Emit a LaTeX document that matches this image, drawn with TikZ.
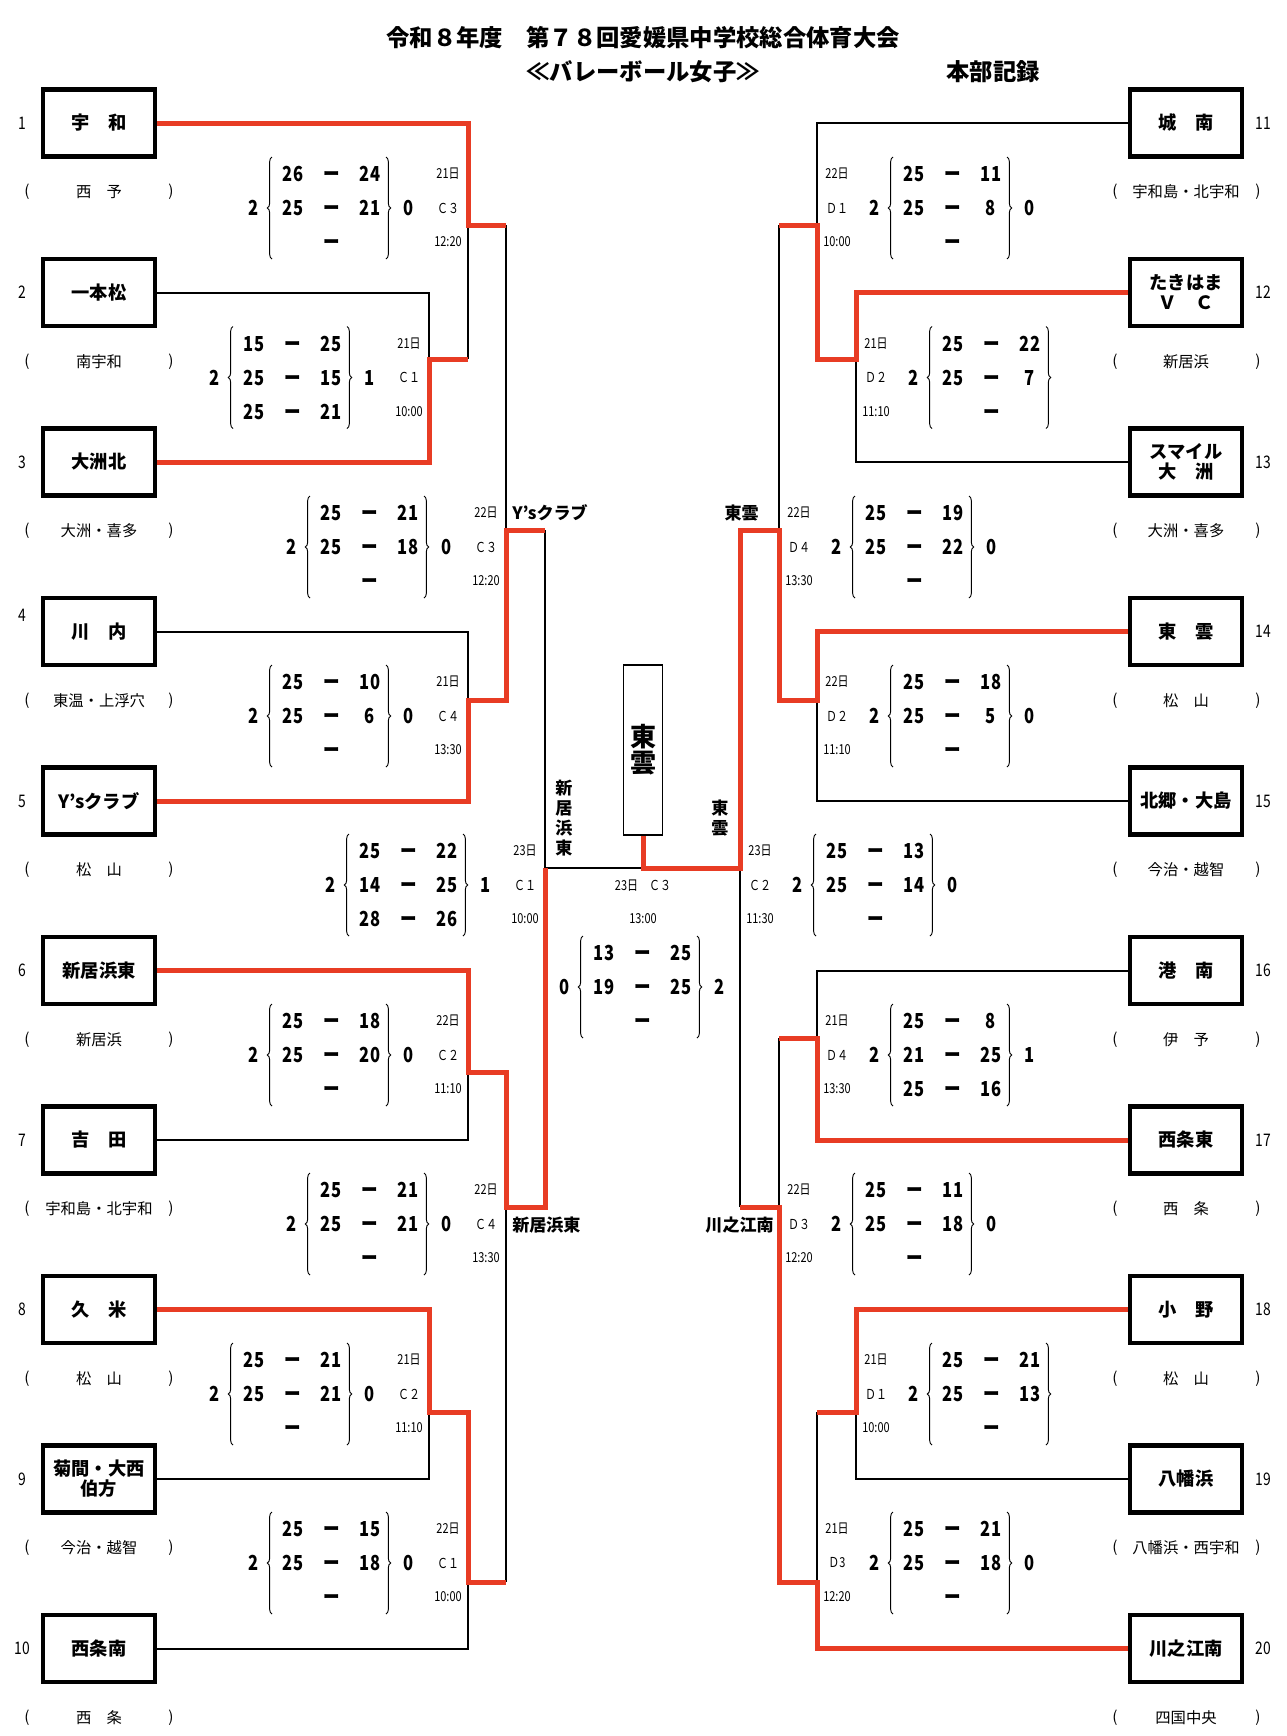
\documentclass[tikz,border=0pt]{standalone}
\usepackage{fontspec}
\setmainfont{Noto Sans CJK JP}
\newfontfamily\narrowfont{Noto Sans CJK JP}[FakeStretch=0.8]
\usetikzlibrary{decorations.pathreplacing}

\definecolor{bracketWin}{RGB}{232,60,36}
\definecolor{bracketLose}{RGB}{0,0,0}

\begin{document}
\begin{tikzpicture}[x=0.75pt,y=-0.75pt,
      team/.style={draw, line width=3.4pt, minimum width=84pt, minimum height=50.5pt,
        inner sep=0pt, align=center, font=\fontsize{13.7}{15}\selectfont\bfseries},
      area/.style={font=\fontsize{11.5}{12}\selectfont, inner sep=0pt},
      seed/.style={font=\fontsize{13}{14}\selectfont\narrowfont, inner sep=0pt},
      score/.style={font=\fontsize{15.5}{16}\selectfont\narrowfont\bfseries, inner sep=0pt},
      info/.style={font=\fontsize{10.3}{11}\selectfont\narrowfont, inner sep=0pt},
      winner/.style={font=\fontsize{12.8}{15}\selectfont\bfseries, inner sep=0pt},
      heading/.style={font=\fontsize{17.5}{18}\selectfont\bfseries, inner sep=0pt},
      scorebrace/.style={decorate, decoration={brace, amplitude=3.5pt}, line width=.7pt},
      win/.style={draw=bracketWin, line width=3.75pt},
      lose/.style={draw=bracketLose, line width=1.5pt}]
      \useasboundingbox (0,0) rectangle (1286,1736);

      \fill[white] (0,0) rectangle (1286,1736);

      % title
      \node[heading] (title) at (643,38) {令和８年度　第７８回愛媛県中学校総合体育大会};
      \node[heading] (event) at (643,72) {≪バレーボール女子≫};
      \node[heading] (record) at (993,72) {本部記録};

      % teams
      \foreach \i/\nm/\ar/\dy in {1/宇　和/西　予/0, 2/一本松/南宇和/0,
          3/大洲北/大洲・喜多/0, 4/川　内/東温・上浮穴/-16, 5/Y'sクラブ/松　山/0,
          6/新居浜東/新居浜/0, 7/吉　田/宇和島・北宇和/0, 8/久　米/松　山/0,
          9/菊間・大西\\伯方/今治・越智/0, 10/西条南/西　条/0}{
        \node[team] (team\i) at (99,{123+169.5*(\i-1)}) {\nm};
        \node[seed] (seed\i) at (22,{123+169.5*(\i-1)+\dy}) {\i};
        \node[area] (area\i) at (99,{192+169.5*(\i-1)}) {\ar};
        \node[area] (lpar\i) at (27,{192+169.5*(\i-1)}) {(};
        \node[area] (rpar\i) at (171,{192+169.5*(\i-1)}) {)};}
      \foreach \i/\nm/\ar in {11/城　南/宇和島・北宇和, 12/たきはま\\Ｖ　Ｃ/新居浜,
          13/スマイル\\大　洲/大洲・喜多, 14/東　雲/松　山, 15/北郷・大島/今治・越智,
          16/港　南/伊　予, 17/西条東/西　条, 18/小　野/松　山,
          19/八幡浜/八幡浜・西宇和, 20/川之江南/四国中央}{
        \node[team] (team\i) at (1186,{123+169.5*(\i-11)}) {\nm};
        \node[seed] (seed\i) at (1263,{123+169.5*(\i-11)}) {\i};
        \node[area] (area\i) at (1186,{192+169.5*(\i-11)}) {\ar};
        \node[area] (lpar\i) at (1115,{192+169.5*(\i-11)}) {(};
        \node[area] (rpar\i) at (1258,{192+169.5*(\i-11)}) {)};}

      % champion
      \node[draw, line width=1.2pt, minimum width=29pt, minimum height=127.5pt,
        inner sep=0pt, align=center, font=\fontsize{19.5}{19.5}\selectfont\bfseries]
        (champ) at (643,750) {東\\雲};

      % match junctions
      \coordinate (mA) at (468,225);  \coordinate (mB) at (429,359);
      \coordinate (mC) at (506,530);  \coordinate (mD) at (468,700);
      \coordinate (mE) at (545,868);  \coordinate (mF) at (468,1072);
      \coordinate (mG) at (506,1207); \coordinate (mH) at (429,1412);
      \coordinate (mI) at (468,1582);
      \coordinate (rA) at (817,225);  \coordinate (rB) at (856,359);
      \coordinate (rC) at (779,530);  \coordinate (rD) at (817,700);
      \coordinate (rE) at (740,868);  \coordinate (rF) at (817,1038);
      \coordinate (rG) at (779,1207); \coordinate (rH) at (856,1412);
      \coordinate (rI) at (817,1582);
      \coordinate (final) at (643,868);

      % losing legs
      \foreach \src/\dst in {team2.east/mB, team4.east/mD, team7.east/mF,
          team9.east/mH, team10.east/mI, team11.west/rA, team13.west/rB,
          team15.west/rD, team16.west/rF, team19.west/rH}
        \draw[lose] (\src) -| (\dst);
      \foreach \src/\dst in {mB/mA, mA/mC, mI/mG, mC/mE, rA/rC, rF/rG, rH/rI, rG/rE}
        \draw[lose] (\src -| \dst) -- (\dst);
      \draw[lose] (mE) -- (final);

      % winning routes
      \draw[win] (team1.east) -| (mA) -- (mA -| mC);
      \draw[win] (team3.east) -| (mB) -- (mB -| mA);
      \draw[win] (team5.east) -| (mD) -- (mD -| mC) -- (mC) -- (mC -| mE);
      \draw[win] (team6.east) -| (mF) -- (mF -| mG) -- (mG) -- (mG -| mE) -- (mE);
      \draw[win] (team8.east) -| (mH) -- (mH -| mI) -- (mI) -- (mI -| mG);
      \draw[win] (team12.west) -| (rB) -- (rB -| rA) -- (rA) -- (rA -| rC);
      \draw[win] (team14.west) -| (rD) -- (rD -| rC) -- (rC) -- (rC -| rE) -- (rE)
        -- (final) -- (champ.south);
      \draw[win] (team17.west) -| (rF) -- (rF -| rG);
      \draw[win] (team18.west) -| (rH) -- (rH -| rI);
      \draw[win] (team20.west) -| (rI) -- (rI -| rG) -- (rG) -- (rG -| rE);

      % set scores
      \foreach[count=\k] \dx/\cy/\ls/\pa/\pb/\qa/\qb/\ra/\rb/\rs in {
          332/208/2/26/24/25/21///0, 293/377.5/2/15/25/25/15/25/21/1,
          370/547/2/25/21/25/18///0, 332/716/2/25/10/25/6///0,
          409/885/2/25/22/14/25/28/26/1, 332/1055/2/25/18/25/20///0,
          370/1224/2/25/21/25/21///0, 293/1394/2/25/21/25/21///0,
          332/1563/2/25/15/25/18///0,
          953/208/2/25/11/25/8///0, 992/377.5/2/25/22/25/7///,
          915/547/2/25/19/25/22///0, 953/716/2/25/18/25/5///0,
          876/885/2/25/13/25/14///0, 953/1055/2/25/8/21/25/25/16/1,
          915/1224/2/25/11/25/18///0, 992/1394/2/25/21/25/13///,
          953/1563/2/25/21/25/18///0,
          643/987/0/13/25/19/25///2}{
        \node[score] (ls\k) at ({\dx-78},\cy) {\vphantom{0}\ls};
        \node[score] (rs\k) at ({\dx+77},\cy) {\vphantom{0}\rs};
        \node[score] (pa\k) at ({\dx-39},{\cy-34}) {\vphantom{0}\pa};
        \node[score] (pd\k) at (\dx,{\cy-34}) {\vphantom{0}ー};
        \node[score] (pb\k) at ({\dx+38},{\cy-34}) {\vphantom{0}\pb};
        \node[score] (qa\k) at ({\dx-39},\cy) {\vphantom{0}\qa};
        \node[score] (qd\k) at (\dx,\cy) {\vphantom{0}ー};
        \node[score] (qb\k) at ({\dx+38},\cy) {\vphantom{0}\qb};
        \node[score] (ra\k) at ({\dx-39},{\cy+34}) {\vphantom{0}\ra};
        \node[score] (rd\k) at (\dx,{\cy+34}) {\vphantom{0}ー};
        \node[score] (rb\k) at ({\dx+38},{\cy+34}) {\vphantom{0}\rb};
        \draw[scorebrace] ({\dx-60},{\cy+51}) -- ({\dx-60},{\cy-51});
        \draw[scorebrace] ({\dx+54},{\cy-51}) -- ({\dx+54},{\cy+51});}

      % day, court, time
      \foreach[count=\k] \lx/\cy/\dd/\ct/\tm in {
          448/208/21日/Ｃ３/12:20, 409/377.5/21日/Ｃ１/10:00,
          486/547/22日/Ｃ３/12:20, 448/716/21日/Ｃ４/13:30,
          525/885/23日/Ｃ１/10:00, 448/1055/22日/Ｃ２/11:10,
          486/1224/22日/Ｃ４/13:30, 409/1394/21日/Ｃ２/11:10,
          448/1563/22日/Ｃ１/10:00,
          837/208/22日/Ｄ１/10:00, 876/377.5/21日/Ｄ２/11:10,
          799/547/22日/Ｄ４/13:30, 837/716/22日/Ｄ２/11:10,
          760/885/23日/Ｃ２/11:30, 837/1055/21日/Ｄ４/13:30,
          799/1224/22日/Ｄ３/12:20, 876/1394/21日/Ｄ１/10:00,
          837/1563/21日/Ｄ3/12:20}{
        \node[info] (dd\k) at (\lx,{\cy-34}) {\dd};
        \node[info] (ct\k) at (\lx,\cy) {\ct};
        \node[info] (tm\k) at (\lx,{\cy+34}) {\tm};}
      \node[info] (finalday) at (643,886) {23日　Ｃ３};
      \node[info] (finaltime) at (643,919) {13:00};

      % winners written on the bracket
      \node[winner, anchor=west] (wys) at (512,513) {Y'sクラブ};
      \node[winner, anchor=east] (wtoun) at (759,513) {東雲};
      \node[winner, anchor=west] (wniihama) at (512,1225) {新居浜東};
      \node[winner, anchor=east] (wkawa) at (774,1225) {川之江南};
      \node[winner, align=center] (vniihama) at (564,818) {新\\居\\浜\\東};
      \node[winner, align=center] (vtoun) at (720,818) {東\\雲};
    \end{tikzpicture}
\end{document}
